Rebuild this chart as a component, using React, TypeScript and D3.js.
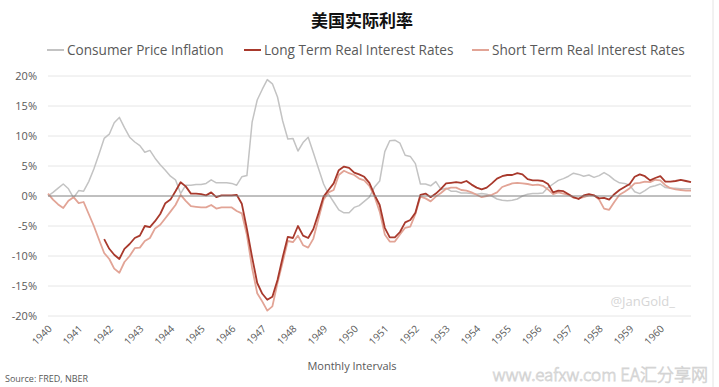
import React, { useEffect, useRef } from 'react';
import * as d3 from 'd3';

// readings every 2 months, Jan 1940 → Jan 1961 (percent)
const startYear = 1940;
const stepMonths = 2;

const cpi = [
  0.0, 0.6, 1.3, 2.0, 1.2, -0.3, 0.9, 0.8, 2.4, 4.5, 7.0, 9.6, 10.3, 12.2, 13.1, 11.4,
  9.8, 9.0, 8.4, 7.3, 7.6, 6.3, 5.2, 4.3, 3.3, 2.7, 0.4, 1.8, 1.8, 1.9, 1.9, 2.1,
  2.7, 2.2, 2.2, 2.2, 2.1, 1.8, 3.2, 3.4, 12.3, 16.0, 17.8, 19.4, 18.7, 16.5, 12.5, 9.5,
  9.6, 7.5, 8.9, 9.8, 7.2, 4.6, 2.0, 0.3, -1.0, -2.3, -2.8, -2.8, -1.9, -1.6, -0.9, -0.2,
  1.5, 2.5, 7.4, 9.2, 9.3, 8.8, 6.8, 6.6, 5.4, 2.0, 2.0, 1.7, 2.4, 1.1, 1.3, 0.8,
  0.8, 0.5, 0.5, 0.4, 0.3, 0.4, 0.3, 0.0, -0.5, -0.7, -0.8, -0.7, -0.5, 0.0, 0.3, 0.4,
  0.4, 0.5, 1.4, 2.0, 2.6, 2.9, 3.3, 3.8, 3.6, 3.3, 3.5, 3.1, 3.4, 3.9, 3.4, 2.7,
  2.2, 2.1, 1.8, 0.7, 0.4, 0.9, 1.5, 1.7, 2.0, 1.4, 1.3, 1.3, 1.2, 1.2, 1.2,
];

const longTerm: (number | null)[] = [
  null, null, null, null, null, null, null, null, null, null, null, -7.2, -8.8, -9.8, -10.5, -8.8,
  -8.0, -7.0, -6.6, -5.0, -5.2, -4.2, -3.0, -1.2, -0.6, 0.8, 2.3, 1.6, 0.4, 0.4, 0.3, 0.1,
  0.6, -0.2, 0.1, 0.1, 0.1, 0.2, -1.3, -5.5, -10.2, -14.5, -16.3, -17.3, -16.8, -14.0, -10.2, -6.8,
  -7.0, -5.0, -6.6, -7.0, -5.5, -2.9, -0.1, 1.0, 2.1, 4.3, 4.9, 4.7, 3.9, 3.6, 3.2, 2.2,
  0.2, -1.5, -5.3, -6.9, -6.9, -6.0, -4.4, -4.0, -2.8, 0.2, 0.4, -0.2, 0.4, 1.2, 2.1, 2.2,
  2.3, 2.2, 2.5, 1.9, 1.4, 1.1, 1.4, 2.1, 2.9, 3.3, 3.5, 3.5, 3.8, 3.6, 2.8, 2.6,
  2.6, 2.5, 2.0, 0.6, 0.9, 0.8, 0.3, -0.2, -0.5, 0.1, 0.3, 0.1, -0.4, -0.3, -0.6, 0.3,
  1.0, 1.5, 2.0, 3.2, 3.6, 3.3, 2.6, 3.0, 3.3, 2.4, 2.4, 2.5, 2.7, 2.5, 2.3,
];

const shortTerm = [
  0.4, -0.6, -1.4, -2.0, -0.8, -0.2, -1.2, -1.0, -3.0, -5.0, -7.3, -9.5, -10.5, -12.1, -12.8, -11.0,
  -10.0, -8.7, -8.6, -7.5, -7.0, -5.4, -4.8, -3.7, -2.6, -1.5, 0.2, -0.8, -1.7, -1.8, -1.9, -1.9,
  -1.5, -2.1, -1.9, -1.9, -1.9, -2.5, -2.9, -6.5, -12.0, -16.2, -17.6, -19.1, -18.4, -14.5, -11.0, -7.5,
  -7.7, -6.6, -8.2, -8.6, -7.1, -3.8, -0.6, 0.6, 1.0, 3.5, 4.2, 3.8, 3.5, 2.9, 2.6, 1.7,
  -0.1, -2.6, -6.4, -7.6, -7.6, -6.4, -5.3, -5.1, -3.0, -0.1, -0.4, -0.9, -0.1, 0.5, 1.2, 1.4,
  1.4, 1.0, 0.9, 0.6, 0.2, -0.2, 0.0, 0.2, 0.6, 1.5, 1.8, 2.1, 2.2, 2.1, 2.0, 1.8,
  1.9, 1.7, 1.1, 0.3, 0.6, 0.4, 0.2, -0.3, -0.4, -0.2, 0.1, 0.1, -0.6, -2.1, -2.3, -1.0,
  0.2, 0.7, 1.3, 2.1, 2.2, 2.4, 2.3, 2.7, 2.6, 1.8, 1.3, 1.1, 1.0, 0.9, 0.9,
];

const yTicks = [20, 15, 10, 5, 0, -5, -10, -15, -20];
const years = d3.range(1940, 1961);

const seriesNames = ['Consumer Price Inflation', 'Long Term Real Interest Rates', 'Short Term Real Interest Rates'];
const colors = ['#c3c3c3', '#a8392c', '#e2a496'];

export default function App() {
  const ref = useRef(null);

  useEffect(() => {
    if (!ref.current) return;
    const svg = d3.select(ref.current);
    svg.selectAll('*').remove();

    const width = 719;
    const height = 387;
    const margin = { top: 76, right: 28, bottom: 71, left: 48 };
    const font = '"Open Sans", Lato, sans-serif';

    const dateOf = (i: number) => new Date(startYear, i * stepMonths, 1);

    const x = d3.scaleTime()
      .domain([new Date(1940, 0, 1), new Date(1961, 0, 1)])
      .range([margin.left, width - margin.right]);

    const y = d3.scaleLinear()
      .domain([-20, 20])
      .range([height - margin.bottom, margin.top]);

    // title
    svg.append('text')
      .attr('x', 362).attr('y', 27)
      .attr('text-anchor', 'middle')
      .attr('font-family', '"Noto Sans CJK SC", sans-serif')
      .attr('font-weight', 700)
      .attr('font-size', 17)
      .attr('fill', '#111')
      .text('美国实际利率');

    // legend
    const legendX = [47, 244, 472];
    seriesNames.forEach((name, i) => {
      const g = svg.append('g').attr('transform', `translate(${legendX[i]},50)`);
      g.append('line').attr('x1', 0).attr('x2', 17).attr('y1', 0).attr('y2', 0)
        .attr('stroke', colors[i]).attr('stroke-width', 2);
      g.append('text').attr('x', 20).attr('y', 4.5)
        .attr('font-family', font).attr('font-size', 13.6).attr('fill', '#595959')
        .text(name);
    });

    // grid + y labels
    svg.append('g')
      .selectAll('line')
      .data(yTicks.filter(d => d !== 0))
      .join('line')
      .attr('x1', margin.left).attr('x2', width - margin.right)
      .attr('y1', d => y(d)).attr('y2', d => y(d))
      .attr('stroke', '#e6e6e6').attr('stroke-width', 1);

    svg.append('g')
      .selectAll('text')
      .data(yTicks)
      .join('text')
      .attr('x', 37).attr('y', d => y(d) + 4)
      .attr('text-anchor', 'end')
      .attr('font-family', font).attr('font-size', 11).attr('fill', '#595959')
      .text(d => `${d}%`);

    // x labels
    svg.append('g')
      .selectAll('text')
      .data(years)
      .join('text')
      .attr('transform', d => `translate(${x(new Date(d, 0, 1)) + 2},${height - margin.bottom + 11}) rotate(-45)`)
      .attr('text-anchor', 'end')
      .attr('dy', '0.35em')
      .attr('font-family', font).attr('font-size', 10).attr('fill', '#595959')
      .text(d => d);

    // lines
    const line = d3.line<number | null>()
      .defined(d => d != null)
      .x((d, i) => x(dateOf(i)))
      .y(d => y(d as number));

    [cpi, shortTerm, longTerm].forEach((data, j) => {
      const idx = [0, 2, 1][j];
      svg.append('path')
        .datum(data)
        .attr('fill', 'none')
        .attr('stroke', colors[idx])
        .attr('stroke-width', idx === 0 ? 1.5 : 1.8)
        .attr('stroke-linejoin', 'round')
        .attr('d', line as any);
    });

    // zero line
    svg.append('line')
      .attr('x1', margin.left).attr('x2', width - margin.right)
      .attr('y1', y(0)).attr('y2', y(0))
      .attr('stroke', '#808080').attr('stroke-width', 1);

    // axis title, source, watermarks
    svg.append('text')
      .attr('x', 352).attr('y', 370)
      .attr('text-anchor', 'middle')
      .attr('font-family', font).attr('font-size', 11).attr('fill', '#595959')
      .text('Monthly Intervals');

    svg.append('text')
      .attr('x', 5).attr('y', 382)
      .attr('font-family', font).attr('font-size', 9).attr('fill', '#595959')
      .text('Source: FRED, NBER');

    svg.append('text')
      .attr('x', 675).attr('y', 306)
      .attr('text-anchor', 'end')
      .attr('font-family', font).attr('font-size', 13).attr('fill', '#d6d6d6')
      .text('@JanGold_');

    svg.append('text')
      .attr('x', 708).attr('y', 381)
      .attr('text-anchor', 'end')
      .attr('font-family', '"Noto Sans CJK SC", sans-serif').attr('font-size', 17)
      .attr('font-weight', 300)
      .attr('fill', 'none').attr('stroke', '#d4d4d4').attr('stroke-width', 0.8)
      .text('www.eafxw.com EA汇分享网');

    svg.append('line')
      .attr('x1', 713).attr('x2', 713).attr('y1', 0).attr('y2', height)
      .attr('stroke', '#e4e4e4');
  }, []);

  return (
    <svg
      ref={ref}
      width={719}
      height={387}
      style={{ position: 'absolute', left: 0, top: 0, background: '#fff' }}
    />
  );
}
